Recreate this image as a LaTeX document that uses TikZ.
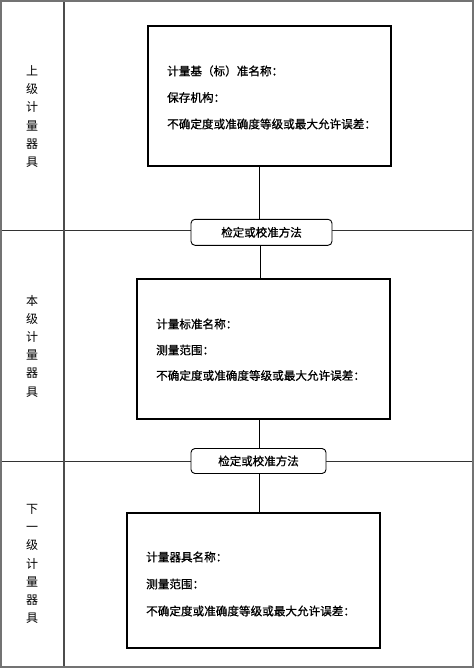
\documentclass[tikz,border=0pt]{standalone}
\usepackage{fontspec}
\newfontfamily\cjk{Noto Sans CJK SC}
\newfontfamily\cjkb{Noto Sans CJK SC}[FakeBold=0.8]
\begin{document}
\begin{tikzpicture}[x=1pt,y=-1pt,
  infobox/.style={draw,line width=1.1pt,fill=white,minimum width=#1,minimum height=140pt,inner sep=0pt},
  methodbox/.style={draw,line width=0.9pt,fill=white,rounded corners=4pt,minimum height=26pt,inner sep=0pt,font=\cjkb\fontsize{11.5}{13}\selectfont},
  boxtext/.style={anchor=west,inner sep=0pt,font=\cjkb\fontsize{11.6}{13}\selectfont},
  sidelabel/.style={align=center,inner sep=0pt,font=\cjk\fontsize{12}{18.2}\selectfont}]
\useasboundingbox (0,0) rectangle (474,668);
\fill[white] (0,0) rectangle (474,668);
% table lines
\draw[line width=0.8pt,black!80] (1,230) -- (473,230);
\draw[line width=0.8pt,black!80] (1,461) -- (473,461);
\draw[line width=1.2pt,black!70] (64,1) -- (64,667);
\draw[line width=2pt,black!55] (1,1) rectangle (473,667);
% side labels
\node[sidelabel] (lab1) at (32,116.5) {上\\级\\计\\量\\器\\具};
\node[sidelabel] (lab2) at (32,346) {本\\级\\计\\量\\器\\具};
\node[sidelabel] (lab3) at (32,564) {下\\一\\级\\计\\量\\器\\具};
% boxes
\node[infobox=243pt] (upper) at (269.5,96) {};
\node[infobox=253pt] (this) at (263.5,349) {};
\node[infobox=253pt,minimum height=135pt] (lower) at (253.5,580.5) {};
\node[methodbox,minimum width=141pt] (meth1) at (261.5,232.3) {检定或校准方法};
\node[methodbox,minimum width=135pt,minimum height=25pt] (meth2) at (258.5,461) {检定或校准方法};
% connectors
\draw[line width=0.9pt] (meth1.north -| 259,0) -- (upper.south -| 259,0);
\draw[line width=0.9pt] (meth1.south -| 260,0) -- (this.north -| 260,0);
\draw[line width=0.9pt] (meth2.north -| 259,0) -- (this.south -| 259,0);
\draw[line width=0.9pt] (meth2.south -| 259,0) -- (lower.north -| 259,0);
% box texts
\node[boxtext] (up1) at (167,71) {计量基（标）准名称：};
\node[boxtext] (up2) at (167,97.5) {保存机构：};
\node[boxtext] (up3) at (167,124) {不确定度或准确度等级或最大允许误差：};
\node[boxtext] (th1) at (156,324) {计量标准名称：};
\node[boxtext] (th2) at (156,350) {测量范围：};
\node[boxtext] (th3) at (156,375.5) {不确定度或准确度等级或最大允许误差：};
\node[boxtext] (lo1) at (146,557) {计量器具名称：};
\node[boxtext] (lo2) at (146,584) {测量范围：};
\node[boxtext] (lo3) at (146,611) {不确定度或准确度等级或最大允许误差：};
\end{tikzpicture}
\end{document}
